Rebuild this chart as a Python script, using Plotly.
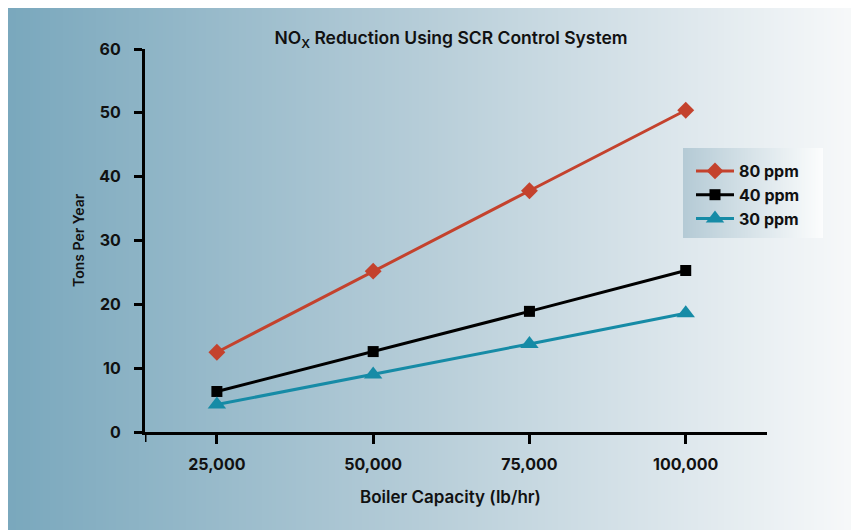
import base64, struct, zlib
import plotly.graph_objects as go

# ---- data ----
capacity = [25000, 50000, 75000, 100000]
x_tick_labels = ["25,000", "50,000", "75,000", "100,000"]
y_ticks = [0, 10, 20, 30, 40, 50, 60]
ppm80 = [12.5, 25.2, 37.8, 50.4]
ppm40 = [6.35, 12.6, 18.9, 25.3]
ppm30 = [4.3, 9.0, 13.8, 18.6]
series_names = ["80 ppm", "40 ppm", "30 ppm"]

# page has an 8px body margin, so figure coords = screen coords - 8
W, H = 851, 522
L, R, T, B = 137, 92, 41, 98
PW, PH = W - L - R, H - T - B
XMIN, XMAX = 13500, 113000


def png_gradient(stops, n=256):
    row = bytearray()
    for i in range(n):
        f = i / (n - 1)
        for j in range(len(stops) - 1):
            f0, c0 = stops[j]
            f1, c1 = stops[j + 1]
            if f0 <= f <= f1:
                t = (f - f0) / (f1 - f0) if f1 > f0 else 0
                row += bytes(int(round(c0[k] + (c1[k] - c0[k]) * t)) for k in range(3))
                break
    raw = b"\x00" + bytes(row)

    def chunk(tag, data):
        return struct.pack(">I", len(data)) + tag + data + struct.pack(">I", zlib.crc32(tag + data) & 0xFFFFFFFF)

    png = (b"\x89PNG\r\n\x1a\n"
           + chunk(b"IHDR", struct.pack(">IIBBBBB", n, 1, 8, 2, 0, 0, 0))
           + chunk(b"IDAT", zlib.compress(raw))
           + chunk(b"IEND", b""))
    return "data:image/png;base64," + base64.b64encode(png).decode()


def px_to_paper_x(px):
    return (px - L) / PW


def px_to_paper_y(py):
    return (H - B - py) / PH


bg = png_gradient([(0.0, (122, 168, 189)), (0.5, (184, 206, 217)), (1.0, (248, 249, 250))])
legbg = png_gradient([(0.0, (180, 202, 213)), (1.0, (252, 253, 253))])

FONT = "Inter, Liberation Sans, Arial, sans-serif"
TXT = "#111111"

fig = go.Figure()
fig.add_trace(go.Scatter(x=capacity, y=ppm80, name=series_names[0], mode="lines+markers",
                         line=dict(color="#C4422D", width=3),
                         marker=dict(symbol="diamond", size=13, color="#C4422D")))
fig.add_trace(go.Scatter(x=capacity, y=ppm40, name=series_names[1], mode="lines+markers",
                         line=dict(color="#000000", width=3),
                         marker=dict(symbol="square", size=11, color="#000000")))
fig.add_trace(go.Scatter(x=capacity, y=ppm30, name=series_names[2], mode="lines+markers",
                         line=dict(color="#168BA6", width=3),
                         marker=dict(symbol="triangle-up", size=16, color="#168BA6")))

fig.update_layout(
    width=W, height=H,
    margin=dict(l=L, r=R, t=T, b=B, autoexpand=False),
    paper_bgcolor="white",
    plot_bgcolor="rgba(0,0,0,0)",
    font=dict(family=FONT, color=TXT),
    title=dict(text="NO<sub>X</sub> Reduction Using SCR Control System",
               x=443 / W, xanchor="center", y=1 - 30 / H, yanchor="middle",
               xref="container", yref="container",
               font=dict(size=17.5, family=FONT, color=TXT, weight=600)),
    showlegend=True,
    legend=dict(x=px_to_paper_x(683), y=px_to_paper_y(146), xanchor="left", yanchor="top",
                bgcolor="rgba(0,0,0,0)", borderwidth=0,
                font=dict(size=16, family=FONT, color=TXT, weight=700),
                itemwidth=38, tracegroupgap=0),
    shapes=[
        dict(type="line", xref="x", yref="paper", x0=XMIN, x1=XMIN, y0=0, y1=-10 / PH,
             line=dict(color="black", width=3)),
    ],
    images=[
        dict(source=bg, xref="paper", yref="paper",
             x=px_to_paper_x(0), y=px_to_paper_y(0), sizex=W / PW, sizey=H / PH,
             xanchor="left", yanchor="top", sizing="stretch", layer="below"),
        dict(source=legbg, xref="paper", yref="paper",
             x=px_to_paper_x(675), y=px_to_paper_y(140), sizex=140 / PW, sizey=90 / PH,
             xanchor="left", yanchor="top", sizing="stretch", layer="below"),
    ],
    annotations=[
        dict(text="Boiler Capacity (lb/hr)", xref="paper", yref="paper",
             x=px_to_paper_x(442), y=px_to_paper_y(489), xanchor="center", yanchor="middle",
             showarrow=False, font=dict(size=17, family=FONT, color=TXT, weight=600)),
        dict(text="Tons Per Year", xref="paper", yref="paper", textangle=-90,
             x=px_to_paper_x(70), y=px_to_paper_y(232), xanchor="center", yanchor="middle",
             showarrow=False, font=dict(size=14, family=FONT, color=TXT, weight=600)),
    ],
)

fig.update_xaxes(range=[XMIN, XMAX], showgrid=False, zeroline=False,
                 showline=True, linecolor="black", linewidth=3,
                 ticks="outside", ticklen=9, tickwidth=3, tickcolor="black",
                 tickvals=capacity, ticktext=x_tick_labels,
                 ticklabelstandoff=7,
                 tickfont=dict(size=16, family=FONT, color=TXT, weight=700))
fig.update_yaxes(range=[0, 60], showgrid=False, zeroline=False,
                 showline=True, linecolor="black", linewidth=3,
                 ticks="outside", ticklen=8, tickwidth=3, tickcolor="black",
                 tickvals=y_ticks, ticklabelstandoff=10,
                 tickfont=dict(size=16, family=FONT, color=TXT, weight=700))

fig.write_html("out.html")
